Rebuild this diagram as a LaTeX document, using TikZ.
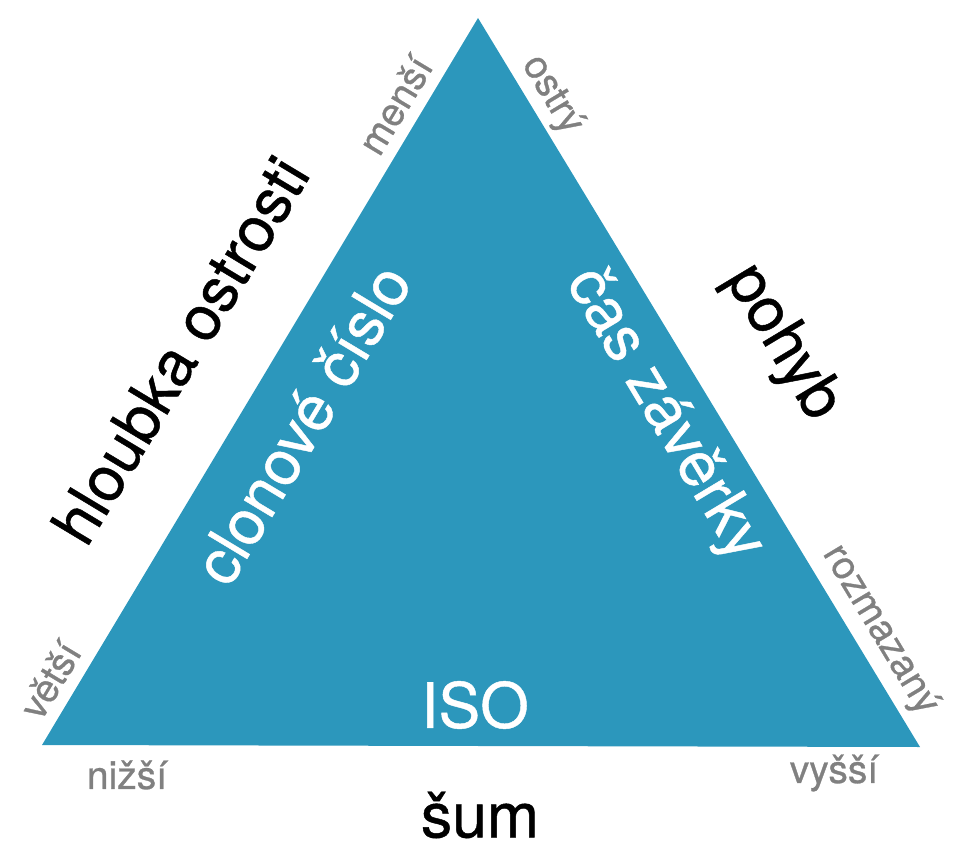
\documentclass[tikz,border=0pt]{standalone}
\usepackage{fontspec}
\setmainfont{TeX Gyre Heros}[FakeBold=0.7]
\definecolor{tri}{RGB}{44,151,188}
\definecolor{lbl}{RGB}{128,128,128}
\begin{document}
\begin{tikzpicture}[x=1pt,y=-1pt,
  big/.style={font=\fontsize{62.5}{62.5}\selectfont, inner sep=0pt},
  small/.style={font=\fontsize{39}{39}\selectfont, text=lbl, inner sep=0pt},
  inside/.style={big, text=white}]
\useasboundingbox (0,0) rectangle (966,850);
\coordinate (A) at (478,18);
\coordinate (B) at (42,745);
\coordinate (C) at (920,747);
\fill[tri] (A) -- (B) -- (C) -- cycle;
% side titles
\node[big, rotate=59] (hl) at (180,350) {hloubka ostrosti};
\node[big, rotate=-59] (po) at (782,343) {pohyb};
\node[big] (sum) at (480,815) {šum};
% inside labels
\node[inside, rotate=59] (cc) at (302,424) {clonové číslo};
\node[inside, rotate=-59] (cz) at (664,415) {čas závěrky};
\node[inside] (iso) at (475,705) {ISO};
% small labels
\node[small, rotate=59] (me) at (395,105) {menší};
\node[small, rotate=-59] (os) at (552,95) {ostrý};
\node[small, rotate=59] (ve) at (50,680) {větší};
\node[small, rotate=-59] (ro) at (880,630) {rozmazaný};
\node[small] (ni) at (127,775) {nižší};
\node[small] (vy) at (834,773) {vyšší};
\end{tikzpicture}
\end{document}
